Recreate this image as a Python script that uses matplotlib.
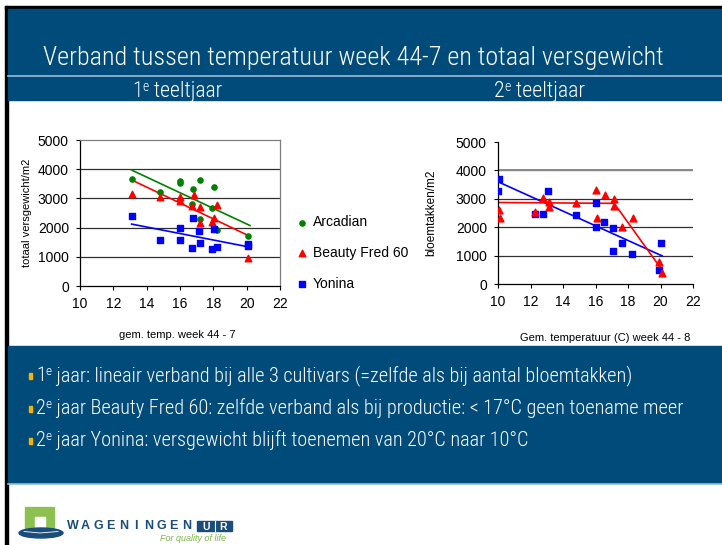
import numpy as np
import matplotlib
matplotlib.use("Agg")
import matplotlib.pyplot as plt
from matplotlib.patches import Rectangle, Ellipse

W, H = 722, 545
SLIDE = ['Liberation Sans Narrow', 'DejaVu Sans Condensed', 'Roboto Condensed',
         'Liberation Sans', 'DejaVu Sans']
CHART = ['Liberation Sans', 'DejaVu Sans']
BLUE = '#004b79'
LINE = '#9dbcd8'

# 1e teeltjaar (gem. temp. week 44-7 vs totaal versgewicht/m2)
arc1_x = [13.1, 14.8, 16.0, 16.0, 16.7, 16.8, 17.2, 17.2, 17.9, 18.05, 18.2, 20.1]
arc1_y = [3650, 3220, 3580, 3530, 2800, 3320, 3630, 2290, 2670, 3380, 1930, 1710]
bf1_x = [13.1, 14.8, 16.0, 16.0, 16.7, 16.85, 17.2, 17.2, 17.9, 18.05, 18.2, 20.1]
bf1_y = [3150, 3060, 3060, 2910, 2750, 3100, 2690, 2150, 2190, 2330, 2770, 970]
yon1_x = [13.1, 14.8, 16.0, 16.0, 16.7, 16.8, 17.15, 17.2, 17.9, 18.05, 18.2, 20.1, 20.1]
yon1_y = [2410, 1580, 2000, 1580, 1300, 2340, 1890, 1480, 1270, 1960, 1320, 1430, 1380]
# trend lines 1e jaar
trend1_x = [13.1, 20.2]
arc1_trend = [3970, 2070]
bf1_trend = [3630, 1700]
yon1_trend = [2120, 1330]

# 2e teeltjaar (Gem. temperatuur (C) week 44-8 vs bloemtakken/m2)
yon2_x = [10.0, 10.05, 12.3, 12.75, 13.1, 14.8, 16.0, 16.05, 16.55, 17.1, 17.1, 17.6, 18.25, 19.9, 20.05]
yon2_y = [3270, 3710, 2480, 2480, 3290, 2420, 2860, 1990, 2200, 1960, 1170, 1460, 1040, 510, 1430]
bf2_x = [10.05, 10.1, 12.3, 12.75, 13.15, 13.15, 14.8, 16.05, 16.1, 16.6, 17.15, 17.15, 17.65, 18.3, 19.9, 20.1]
bf2_y = [2620, 2340, 2520, 3040, 2870, 2720, 2860, 3300, 2310, 3130, 2990, 2760, 1990, 2340, 790, 400]
yon2_trend_x = [10.0, 20.1]
yon2_trend_y = [3600, 990]
bf2_trend_x = [10.0, 17.15, 20.05]
bf2_trend_y = [2870, 2840, 530]

labels = ['Arcadian', 'Beauty Fred 60', 'Yonina']
title = 'Verband tussen temperatuur week 44-7 en totaal versgewicht'
bullets = [
    ('1', 'e', ' jaar: lineair verband bij alle 3 cultivars (=zelfde als bij aantal bloemtakken)'),
    ('2', 'e', ' jaar Beauty Fred 60: zelfde verband als bij productie: < 17°C geen toename meer'),
    ('2', 'e', ' jaar Yonina: versgewicht blijft toenemen van 20°C naar 10°C'),
]

fig = plt.figure(figsize=(W / 100, H / 100), dpi=100)
bg = fig.add_axes([0, 0, 1, 1])
bg.set_xlim(0, W)
bg.set_ylim(H, 0)
bg.axis('off')
r = fig.canvas.get_renderer()

# slide background
bg.add_patch(Rectangle((5, 6), W, 3, color='black'))
bg.add_patch(Rectangle((5, 6), 3, H, color='black'))
bg.add_patch(Rectangle((8, 9), W, 91, color=BLUE))
bg.plot([8, W], [76, 76], color=LINE, lw=1.2)
bg.add_patch(Rectangle((8, 346), W, 137, color=BLUE))
bg.plot([8, W], [483.5, 483.5], color=LINE, lw=1.2)


def rich(x, y, parts, color='white', scale=1.0, draw=True):
    """draw runs of text next to each other, returns total width"""
    x0 = x
    for s, size, dy in parts:
        t = bg.text(x, y - dy * scale, s, fontsize=size * scale, color=color,
                    family=SLIDE, fontweight='light', va='baseline')
        x += t.get_window_extent(renderer=r).width
        if not draw:
            t.remove()
    return x - x0


def fitted(x, y, parts, width):
    w = rich(x, y, parts, draw=False)
    rich(x, y, parts, scale=width / w)


fitted(43, 65, [(title, 18, 0)], 622)
fitted(132, 97, [('1', 12.5, 0), ('e', 8, 5), (' teeltjaar', 12.5, 0)], 90)
fitted(494, 97, [('2', 12.5, 0), ('e', 8, 5), (' teeltjaar', 12.5, 0)], 91)

bparts = [[(a, 11.5, 0), (b, 7.5, 4.5), (c, 11.5, 0)] for a, b, c in bullets]
bscale = 650 / rich(36, 381, bparts[1], draw=False)
for i, parts in enumerate(bparts):
    yb = 381 + i * 32.5
    bg.add_patch(Rectangle((28.5, yb - 8), 3.5, 6, color='#f2b600'))
    rich(36, yb, parts, scale=bscale)

# logo
bg.add_patch(Rectangle((25, 507), 29, 22, color='#8cc152'))
bg.add_patch(Rectangle((35, 517), 10, 12, color='white'))
bg.add_patch(Ellipse((41, 533), 44, 10, color='#1b4d7a'))
bg.plot([24, 40, 58], [531.5, 533, 531.5], color='white', lw=0.6)
for i, ch in enumerate('WAGENINGEN'):
    bg.text(73 + i * 12.6, 529, ch, fontsize=9, fontweight='bold', color='#1b4d7a',
            family=CHART, va='baseline', ha='center')
bg.add_patch(Rectangle((197, 521), 35, 9.5, color='#1b4d7a'))
bg.plot([214.5, 214.5], [521, 530.5], color='white', lw=0.8)
bg.text(206, 529.5, 'U', fontsize=7.5, fontweight='bold', color='white', family=CHART,
        va='baseline', ha='center')
bg.text(223, 529.5, 'R', fontsize=7.5, fontweight='bold', color='white', family=CHART,
        va='baseline', ha='center')
bg.text(160, 541, 'For quality of life', fontsize=6.5, style='italic', color='#7ab648',
        family=CHART, va='baseline')


def px_axes(x0, y0, x1, y1):
    return fig.add_axes([x0 / W, 1 - y1 / H, (x1 - x0) / W, (y1 - y0) / H])


def style(ax):
    ax.set_xlim(10, 22)
    ax.set_ylim(0, 5000)
    ax.set_xticks(range(10, 23, 2))
    ax.set_yticks(range(0, 5001, 1000))
    ax.tick_params(direction='out', length=3, width=0.8, labelsize=10, pad=5)
    for lab in ax.get_xticklabels() + ax.get_yticklabels():
        lab.set_family(CHART)
    ax.set_axisbelow(True)
    for v in [1000, 2000, 3000, 4000]:
        ax.axhline(v, color='#303030', lw=0.9, zorder=0)
    for s in ax.spines.values():
        s.set_linewidth(0.9)


# left chart
ax1 = px_axes(80, 140, 280, 286)
style(ax1)
for s in ['top', 'right']:
    ax1.spines[s].set_color('#7f7f7f')
h1 = ax1.scatter(arc1_x, arc1_y, s=14, marker='o', color='#008000', zorder=3)
h2 = ax1.scatter(bf1_x, bf1_y, s=22, marker='^', color='#ff0000', zorder=3)
h3 = ax1.scatter(yon1_x, yon1_y, s=18, marker='s', color='#0000ff', zorder=3)
ax1.plot(trend1_x, arc1_trend, color='#008000', lw=1.2, zorder=2)
ax1.plot(trend1_x, bf1_trend, color='#ff0000', lw=1.2, zorder=2)
ax1.plot(trend1_x, yon1_trend, color='#0000ff', lw=1.2, zorder=2)
ax1.set_ylabel('totaal versgewicht/m2', fontsize=8, family=CHART)
ax1.yaxis.set_label_coords(-48 / 200, 0.5)
ax1.set_xlabel('gem. temp. week 44 - 7', fontsize=8, family=CHART)
ax1.xaxis.set_label_coords(97 / 200, -44 / 146)
fig.legend([h1, h2, h3], labels, loc='center left',
           bbox_to_anchor=(288 / W, 1 - 253 / H), frameon=False,
           prop={'family': CHART, 'size': 10}, handletextpad=0.3,
           labelspacing=1.2, handlelength=1.0, borderpad=0)

# right chart
ax2 = px_axes(498, 142, 693, 284)
style(ax2)
ax2.spines['top'].set_visible(False)
ax2.spines['right'].set_visible(False)
ax2.axhline(4000, color='#8a8a8a', lw=1.4, zorder=0)
ax2.scatter(yon2_x, yon2_y, s=20, marker='s', color='#0000ff', zorder=3)
ax2.scatter(bf2_x, bf2_y, s=24, marker='^', color='#ff0000', zorder=3)
ax2.plot(yon2_trend_x, yon2_trend_y, color='#0000ff', lw=1.2, zorder=2)
ax2.plot(bf2_trend_x, bf2_trend_y, color='#ff0000', lw=1.2, zorder=2)
ax2.set_ylabel('bloemtakken/m2', fontsize=8.5, family=CHART)
ax2.yaxis.set_label_coords(-61 / 195, 0.5)
ax2.set_xlabel('Gem. temperatuur (C) week 44 - 8', fontsize=8, family=CHART)
ax2.xaxis.set_label_coords(107 / 195, -49 / 142)

fig.savefig('out.png', dpi=100)
